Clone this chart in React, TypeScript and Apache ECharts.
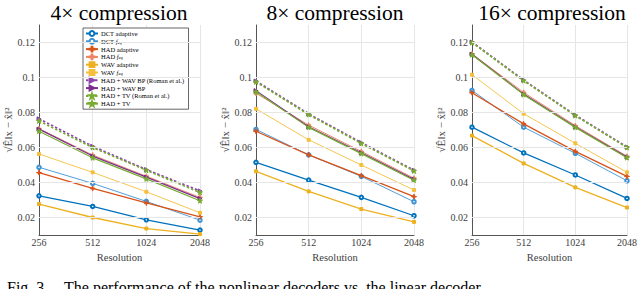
import React, { useEffect, useRef } from "react";
import * as echarts from "echarts";

const categories = ["256", "512", "1024", "2048"];
const panelTitles = ["4× compression", "8× compression", "16× compression"];
const yGridValues = [0.02, 0.04, 0.06, 0.08, 0.1, 0.12];

// each array: [4x, 8x, 16x] panels
const dctAdaptive = [
  [0.0324, 0.0263, 0.0187, 0.0128],
  [0.0515, 0.0414, 0.0315, 0.021],
  [0.0716, 0.0569, 0.0443, 0.0309],
];
const dctFeq = [
  [0.0487, 0.0395, 0.0292, 0.0185],
  [0.0703, 0.0558, 0.0435, 0.029],
  [0.0926, 0.0716, 0.0567, 0.041],
];
const hadAdaptive = [
  [0.0456, 0.0366, 0.0283, 0.0204],
  [0.0693, 0.0558, 0.0439, 0.0319],
  [0.0913, 0.0735, 0.0578, 0.0435],
];
const hadFeq = [
  [0.0708, 0.0557, 0.0436, 0.0315],
  [0.091, 0.0728, 0.0578, 0.0425],
  [0.1135, 0.0915, 0.0725, 0.055],
];
const wavAdaptive = [
  [0.0277, 0.02, 0.0137, 0.0105],
  [0.0464, 0.0349, 0.0248, 0.0175],
  [0.0668, 0.0509, 0.0372, 0.0257],
];
const wavFeq = [
  [0.0563, 0.0458, 0.0347, 0.0227],
  [0.0821, 0.0644, 0.05, 0.0357],
  [0.1016, 0.0793, 0.0624, 0.0458],
];
const hadWavBpRoman = [
  [0.0764, 0.0607, 0.0474, 0.0352],
  [0.098, 0.0792, 0.0628, 0.047],
  [0.1203, 0.0985, 0.0785, 0.0603],
];
const hadWavBp = [
  [0.0705, 0.0551, 0.0431, 0.0308],
  [0.0925, 0.0718, 0.057, 0.0418],
  [0.1133, 0.0905, 0.0718, 0.0545],
];
const hadTvRoman = [
  [0.0752, 0.06, 0.047, 0.0343],
  [0.0975, 0.0788, 0.0623, 0.0466],
  [0.12, 0.0982, 0.0782, 0.06],
];
const hadTv = [
  [0.0693, 0.0541, 0.0421, 0.0296],
  [0.0918, 0.0715, 0.0565, 0.0413],
  [0.113, 0.0902, 0.0715, 0.0542],
];

const seriesNames = [
  "DCT adaptive",
  "DCT f_eq",
  "HAD adaptive",
  "HAD f_eq",
  "WAV adaptive",
  "WAV f_eq",
  "HAD + WAV BP (Roman et al.)",
  "HAD + WAV BP",
  "HAD + TV (Roman et al.)",
  "HAD + TV",
];

const PLUS = "path://M4.2,0H5.8V4.2H10V5.8H5.8V10H4.2V5.8H0V4.2H4.2Z";
const TRI_RIGHT = "path://M0,0L10,5L0,10Z";
const STAR = "path://M5,0L6.2,3.6L10,3.6L6.9,5.9L8.1,9.5L5,7.3L1.9,9.5L3.1,5.9L0,3.6L3.8,3.6Z";

const seriesDefs = [
  { data: dctAdaptive, color: "#0072BD", symbol: "emptyCircle", width: 1.3, dash: "solid", size: 3.5 },
  { data: dctFeq, color: "#3D93D3", symbol: "emptyCircle", width: 0.9, dash: "solid", size: 3.5 },
  { data: hadAdaptive, color: "#D95319", symbol: PLUS, width: 1.3, dash: "solid", size: 4.5 },
  { data: hadFeq, color: "#EC8463", symbol: PLUS, width: 0.9, dash: "solid", size: 4.5 },
  { data: wavAdaptive, color: "#EDB120", symbol: "rect", width: 1.3, dash: "solid", size: 3 },
  { data: wavFeq, color: "#F4BF3C", symbol: "rect", width: 0.9, dash: "solid", size: 3 },
  { data: hadWavBpRoman, color: "#8E44AD", symbol: TRI_RIGHT, width: 1.7, dash: [2.5, 2], size: 4 },
  { data: hadWavBp, color: "#7E2F8E", symbol: TRI_RIGHT, width: 1.2, dash: "solid", size: 4 },
  { data: hadTvRoman, color: "#77AC30", symbol: STAR, width: 1.7, dash: [2.5, 2], size: 5 },
  { data: hadTv, color: "#77AC30", symbol: STAR, width: 1.2, dash: "solid", size: 5 },
];

const grids = [
  { left: 39, width: 161, center: 114 },
  { left: 256, width: 158, center: 330 },
  { left: 472, width: 159, center: 547 },
];

const SERIF = "Liberation Serif";

export default function App() {
  const ref = useRef<HTMLDivElement>(null);
  useEffect(() => {
    if (!ref.current) return;
    const chart = echarts.init(ref.current, null, { renderer: "svg" });

    const series: any[] = [];
    grids.forEach((_, gi) => {
      series.push({
        type: "line",
        name: "grid" + gi,
        xAxisIndex: gi,
        yAxisIndex: gi,
        data: [],
        z: 1,
        silent: true,
        markLine: {
          silent: true,
          symbol: ["none", "none"],
          label: { show: false },
          lineStyle: { color: "#e6e6e6", type: "solid", width: 1 },
          data: yGridValues.map((v) => ({ yAxis: v })),
        },
      });
      seriesDefs.forEach((d, si) => {
        series.push({
          type: "line",
          name: seriesNames[si],
          xAxisIndex: gi,
          yAxisIndex: gi,
          data: d.data[gi],
          symbol: d.symbol,
          symbolSize: d.size,
          showSymbol: true,
          color: d.color,
          lineStyle: { color: d.color, width: d.width, type: d.dash },
          itemStyle: { color: d.color, borderColor: d.color, borderWidth: 1 },
          z: 2 + si * 0.01,
        });
      });
    });

    const legendLabel = (name: string) =>
      name.replace(" f_eq", " {it|f}{sub|eq}");

    const option: any = {
      animation: false,
      backgroundColor: "#ffffff",
      textStyle: { fontFamily: SERIF },
      title: panelTitles.map((t, i) => ({
        text: t,
        left: grids[i].center,
        top: -3,
        textAlign: "center",
        textStyle: {
          fontFamily: SERIF,
          fontSize: 21.5,
          fontWeight: "normal",
          color: "#000",
        },
      })),
      legend: {
        data: seriesNames,
        orient: "vertical",
        left: 83,
        top: 28,
        itemWidth: 12,
        itemHeight: 6,
        itemGap: 0.8,
        padding: [2, 4, 2, 2],
        backgroundColor: "#ffffff",
        borderColor: "#404040",
        borderWidth: 0.8,
        textStyle: {
          fontFamily: SERIF,
          fontSize: 6.5,
          color: "#000",
          padding: [0, 0, 0, -2],
          rich: {
            it: { fontFamily: SERIF, fontStyle: "italic", fontSize: 6.5, color: "#000" },
            sub: { fontFamily: SERIF, fontStyle: "italic", fontSize: 4.5, color: "#000", padding: [2, 0, 0, 0] },
          },
        },
        formatter: legendLabel,
      },
      grid: grids.map((g) => ({ left: g.left, width: g.width, top: 25, height: 210 })),
      xAxis: grids.map((_, i) => ({
        type: "category",
        gridIndex: i,
        data: categories,
        boundaryGap: false,
        name: "Resolution",
        nameLocation: "middle",
        nameGap: 16,
        nameTextStyle: { fontFamily: SERIF, fontSize: 10.5, color: "#404040" },
        axisLine: { show: true, lineStyle: { color: "#555", width: 1 } },
        axisTick: { show: false },
        axisLabel: { fontFamily: SERIF, fontSize: 10, color: "#404040", margin: 2 },
        splitLine: { show: true, lineStyle: { color: "#e6e6e6", width: 1 } },
      })),
      yAxis: grids.map((_, i) => ({
        type: "value",
        gridIndex: i,
        min: 0.01,
        max: 0.13,
        interval: 0.01,
        name: "√Ê‖x − x̂‖²",
        nameLocation: "middle",
        nameRotate: 90,
        nameGap: 22,
        nameTextStyle: { fontFamily: SERIF, fontSize: 11, color: "#404040" },
        axisLine: { show: true, lineStyle: { color: "#555", width: 1 } },
        axisTick: { show: false },
        splitLine: { show: false },
        axisLabel: {
          fontFamily: SERIF,
          fontSize: 10,
          color: "#404040",
          margin: 4,
          formatter: (v: number) => {
            const r = Math.round(v * 100);
            if (r % 2 !== 0 || r < 2 || r > 12) return "";
            return String(+(r / 100).toFixed(2));
          },
        },
      })),
      graphic: [
        {
          type: "text",
          left: 7,
          top: 279,
          style: {
            text: "Fig. 3.    The performance of the nonlinear decoders vs. the linear decoder",
            fontFamily: SERIF,
            fontSize: 16,
            fill: "#000",
          },
        },
      ],
      series,
    };
    chart.setOption(option);
    return () => chart.dispose();
  }, []);

  return (
    <div
      ref={ref}
      style={{
        position: "fixed",
        left: 0,
        top: 0,
        width: 640,
        height: 289,
        background: "#fff",
        fontFamily: "'Liberation Serif', serif",
      }}
    />
  );
}
